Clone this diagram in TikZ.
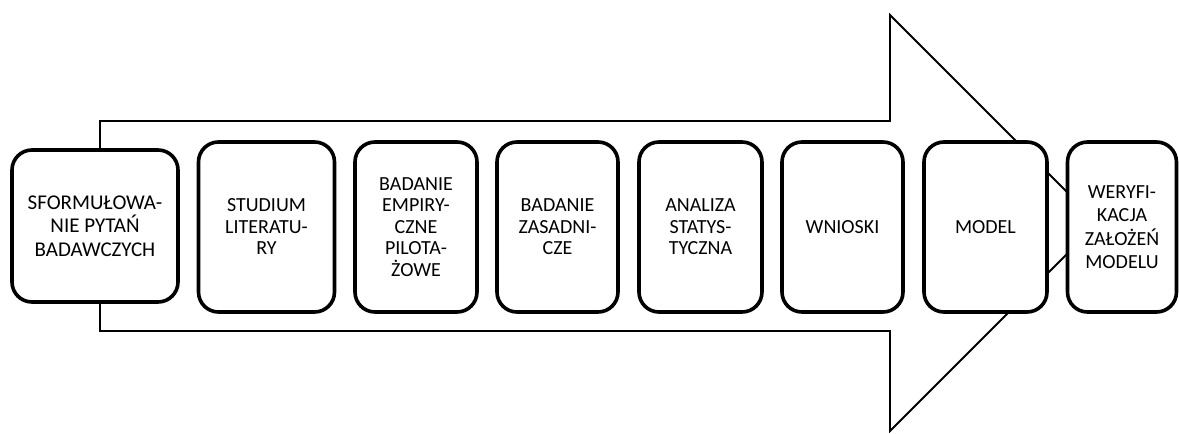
\documentclass[tikz,border=0pt]{standalone}
\usepackage{fontspec}
\setmainfont{Carlito}
\begin{document}
\begin{tikzpicture}[x=1pt,y=-1pt,
  stage/.style={draw=black,fill=white,line width=3.6pt,rounded corners=20pt,
    minimum height=170pt,align=center,inner sep=0pt,
    font=\fontsize{20}{21.5}\selectfont},
  bigarrow/.style={draw=black,fill=white,line width=1.8pt,line join=miter}]
\useasboundingbox (0,0) rectangle (1179,434);
\coordinate (a1) at (100,121);
\coordinate (a2) at (890,121);
\coordinate (a3) at (890,15);
\coordinate (a4) at (1098,223);
\coordinate (a5) at (890,431);
\coordinate (a6) at (890,331);
\coordinate (a7) at (100,331);
\draw[bigarrow] (a1) -- (a2) -- (a3) -- (a4) -- (a5) -- (a6) -- (a7) -- cycle;
\node[stage,minimum width=166pt,minimum height=152pt,font=\fontsize{21}{23.5}\selectfont] (s1) at (95,226) {SFORMUŁOWA-\\NIE PYTAŃ\\BADAWCZYCH};
\node[stage,minimum width=136pt] (s2) at (266.5,227) {STUDIUM\\LITERATU-\\RY};
\node[stage,minimum width=122pt] (s3) at (416,227) {BADANIE\\EMPIRY-\\CZNE\\PILOTA-\\ŻOWE};
\node[stage,minimum width=121pt] (s4) at (557.5,227) {BADANIE\\ZASADNI-\\CZE};
\node[stage,minimum width=123pt] (s5) at (700.5,227) {ANALIZA\\STATYS-\\TYCZNA};
\node[stage,minimum width=121pt] (s6) at (842.5,227) {WNIOSKI};
\node[stage,minimum width=123pt] (s7) at (985.5,227) {MODEL};
\node[stage,minimum width=109pt,font=\fontsize{20}{23.5}\selectfont] (s8) at (1122,227) {WERYFI-\\KACJA\\ZAŁOŻEŃ\\MODELU};
\end{tikzpicture}
\end{document}
